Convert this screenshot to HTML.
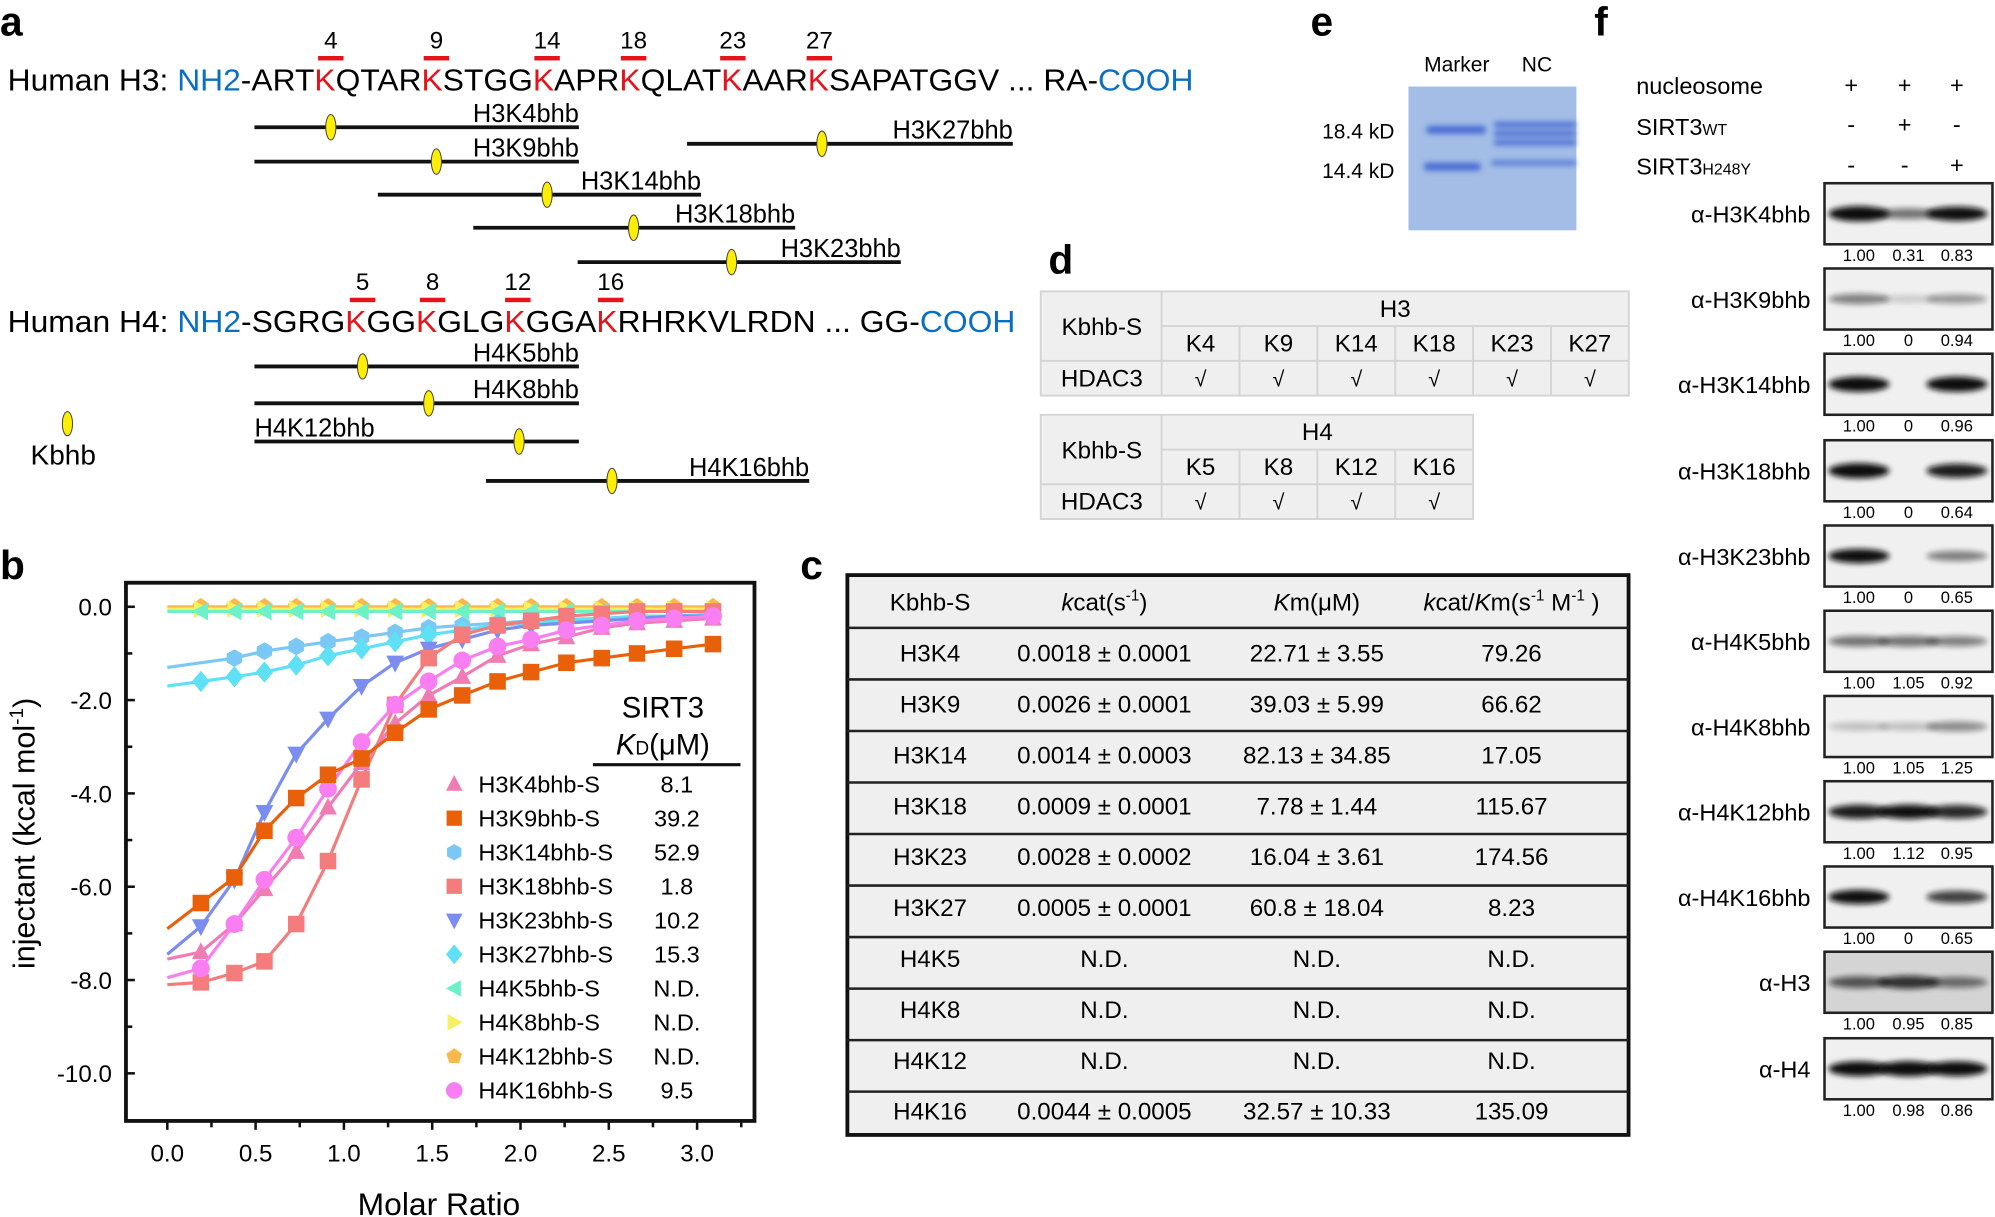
<!DOCTYPE html>
<html><head><meta charset="utf-8"><style>
html,body{margin:0;padding:0;background:#fff;}
svg{display:block;}
text{font-family:"Liberation Sans",Arial,sans-serif;}
</style></head><body>
<svg id="s" width="1995" height="1217" viewBox="0 0 1568 956.5" xmlns="http://www.w3.org/2000/svg">
<defs>
<filter id="bl" x="-30%" y="-100%" width="160%" height="300%"><feGaussianBlur stdDeviation="2.2"/></filter>
</defs>
<rect width="1568" height="957" fill="#fff"/>
<g font-weight="bold" font-size="32" fill="#000">
<text x="0" y="28">a</text><text x="0" y="455">b</text><text x="629" y="455">c</text>
<text x="824" y="215">d</text><text x="1030" y="28">e</text><text x="1253" y="28">f</text>
</g>
<g font-size="19" text-anchor="middle">
<text x="260" y="38">4</text><text x="343" y="38">9</text><text x="430" y="38">14</text><text x="498" y="38">18</text><text x="576" y="38">23</text><text x="644" y="38">27</text>
<text x="285" y="228">5</text><text x="340" y="228">8</text><text x="407" y="228">12</text><text x="480" y="228">16</text>
</g>
<g fill="#e5141b">
<rect x="250" y="44" width="20" height="3.5"/><rect x="333" y="44" width="20" height="3.5"/><rect x="420" y="44" width="20" height="3.5"/><rect x="488" y="44" width="20" height="3.5"/><rect x="566" y="44" width="20" height="3.5"/><rect x="634" y="44" width="20" height="3.5"/>
<rect x="275" y="234" width="20" height="3.5"/><rect x="330" y="234" width="20" height="3.5"/><rect x="397" y="234" width="20" height="3.5"/><rect x="470" y="234" width="20" height="3.5"/>
</g>
<text x="6" y="71" font-size="24" textLength="932" lengthAdjust="spacingAndGlyphs">Human H3:  <tspan fill="#0a6fc2">NH2</tspan>-ART<tspan fill="#e5141b">K</tspan>QTAR<tspan fill="#e5141b">K</tspan>STGG<tspan fill="#e5141b">K</tspan>APR<tspan fill="#e5141b">K</tspan>QLAT<tspan fill="#e5141b">K</tspan>AAR<tspan fill="#e5141b">K</tspan>SAPATGGV ... RA-<tspan fill="#0a6fc2">COOH</tspan></text>
<text x="6" y="261" font-size="24" textLength="792" lengthAdjust="spacingAndGlyphs">Human H4:  <tspan fill="#0a6fc2">NH2</tspan>-SGRG<tspan fill="#e5141b">K</tspan>GG<tspan fill="#e5141b">K</tspan>GLG<tspan fill="#e5141b">K</tspan>GGA<tspan fill="#e5141b">K</tspan>RHRKVLRDN ... GG-<tspan fill="#0a6fc2">COOH</tspan></text>
<g id="pep" stroke="#111" stroke-width="3"></g>
<ellipse cx="53" cy="333" rx="4" ry="9.5" fill="#ffee00" stroke="#444" stroke-width="0.8"/>
<text x="24" y="365" font-size="22">Kbhb</text>
<g id="tabd"></g>
<text x="1145" y="56" font-size="16.5" text-anchor="middle">Marker</text>
<text x="1208" y="56" font-size="16.5" text-anchor="middle">NC</text>
<text x="1096" y="109" font-size="16.5" text-anchor="end">18.4 kD</text>
<text x="1096" y="140" font-size="16.5" text-anchor="end">14.4 kD</text>
<rect x="1107" y="68" width="132" height="113" fill="#a3bde6"/>
<g filter="url(#bl)" fill="#3a5fd0" opacity="0.9">
<rect x="1121" y="99" width="47" height="6" rx="3"/>
<rect x="1119" y="128" width="45" height="6" rx="3"/>
<rect x="1174" y="96" width="65" height="4" rx="2"/>
<rect x="1174" y="103" width="65" height="4" rx="2"/>
<rect x="1174" y="110" width="65" height="4" rx="2"/>
<rect x="1172" y="126" width="67" height="4" rx="2" opacity="0.8"/>
</g>
<g font-size="18.5">
<text x="1286" y="74">nucleosome</text>
<text x="1286" y="106">SIRT3<tspan font-size="12.5">WT</tspan></text>
<text x="1286" y="137">SIRT3<tspan font-size="12.5">H248Y</tspan></text>
</g>
<g font-size="18.5" text-anchor="middle">
<text x="1455" y="73">+</text><text x="1497" y="73">+</text><text x="1538" y="73">+</text>
<text x="1455" y="104">-</text><text x="1497" y="104">+</text><text x="1538" y="104">-</text>
<text x="1455" y="136">-</text><text x="1497" y="136">-</text><text x="1538" y="136">+</text>
</g>
<g id="blots"></g>
<g id="tabc"></g>
<g id="plot"></g>
</svg>
<script>
var NS="http://www.w3.org/2000/svg";
function el(p,t,a,txt){var e=document.createElementNS(NS,t);for(var k in a)e.setAttribute(k,a[k]);if(txt!==undefined)e.textContent=txt;p.appendChild(e);return e;}
var pep=document.getElementById('pep'),svg=document.getElementById('s');
var peps=[[200,455,100,260,'H3K4bhb','r'],[200,455,127,343,'H3K9bhb','r'],[297,551,153,430,'H3K14bhb','r'],[372,625,179,498,'H3K18bhb','r'],[454,708,206,575,'H3K23bhb','r'],[540,796,113,646,'H3K27bhb','r'],
[200,455,288,285,'H4K5bhb','r'],[200,455,317,337,'H4K8bhb','r'],[200,455,347,408,'H4K12bhb','l'],[382,636,378,481,'H4K16bhb','r']];
peps.forEach(function(p){el(pep,'line',{x1:p[0],x2:p[1],y1:p[2],y2:p[2]});
el(svg,'ellipse',{cx:p[3],cy:p[2],rx:4,ry:10,fill:'#ffee00',stroke:'#444','stroke-width':0.8});
if(p[5]=='r')el(svg,'text',{x:p[1],y:p[2]-4,'font-size':20,'text-anchor':'end'},p[4]);else el(svg,'text',{x:p[0],y:p[2]-4,'font-size':20},p[4]);});
var td=document.getElementById('tabd');
function tabD(y0,cols,lbl,ks){var x0=818,x1=913,w=61.2,xe=x1+w*ks.length,h=27.3;
el(td,'rect',{x:x0,y:y0,width:xe-x0,height:h*3,fill:'#efefef',stroke:'#d4d4d4','stroke-width':1.5});
el(td,'line',{x1:x1,x2:x1,y1:y0,y2:y0+h*3,stroke:'#d4d4d4','stroke-width':1.5});
el(td,'line',{x1:x1,x2:xe,y1:y0+h,y2:y0+h,stroke:'#d4d4d4','stroke-width':1.5});
el(td,'line',{x1:x0,x2:xe,y1:y0+2*h,y2:y0+2*h,stroke:'#d4d4d4','stroke-width':1.5});
for(var i=1;i<ks.length;i++)el(td,'line',{x1:x1+w*i,x2:x1+w*i,y1:y0+h,y2:y0+3*h,stroke:'#d4d4d4','stroke-width':1.5});
el(td,'text',{x:866,y:y0+h+7,'font-size':19,'text-anchor':'middle'},'Kbhb-S');
el(td,'text',{x:866,y:y0+2*h+20,'font-size':19,'text-anchor':'middle'},'HDAC3');
el(td,'text',{x:(x1+xe)/2,y:y0+20,'font-size':19,'text-anchor':'middle'},lbl);
ks.forEach(function(k,i){el(td,'text',{x:x1+w*i+w/2,y:y0+h+20,'font-size':19,'text-anchor':'middle'},k);
el(td,'text',{x:x1+w*i+w/2,y:y0+2*h+20,'font-size':17,'text-anchor':'middle'},'\u221A');});}
tabD(229,0,'H3',['K4','K9','K14','K18','K23','K27']);
tabD(326,0,'H4',['K5','K8','K12','K16']);
var tc=document.getElementById('tabc');
el(tc,'rect',{x:666,y:452,width:614,height:440,fill:'#efefef',stroke:'#111','stroke-width':3});
for(var i=1;i<11;i++)el(tc,'line',{x1:666,x2:1280,y1:452+i*40.5+1,y2:452+i*40.5+1,stroke:'#222','stroke-width':2});
var hx=[731,868,1035,1188];
el(tc,'text',{x:hx[0],y:480,'font-size':19,'text-anchor':'middle'},'Kbhb-S');
var t=el(tc,'text',{x:hx[1],y:480,'font-size':19,'text-anchor':'middle'});
t.innerHTML='<tspan font-style="italic">k</tspan>cat(s<tspan font-size="12" dy="-8">-1</tspan><tspan dy="8">)</tspan>';
t=el(tc,'text',{x:hx[2],y:480,'font-size':19,'text-anchor':'middle'});
t.innerHTML='<tspan font-style="italic">K</tspan>m(\u03BCM)';
t=el(tc,'text',{x:hx[3],y:480,'font-size':19,'text-anchor':'middle'});
t.innerHTML='<tspan font-style="italic">k</tspan>cat/<tspan font-style="italic">K</tspan>m(s<tspan font-size="12" dy="-8">-1</tspan><tspan dy="8"> M</tspan><tspan font-size="12" dy="-8">-1</tspan><tspan dy="8"> )</tspan>';
var rows=[['H3K4','0.0018 \u00B1 0.0001','22.71 \u00B1 3.55','79.26'],['H3K9','0.0026 \u00B1 0.0001','39.03 \u00B1 5.99','66.62'],['H3K14','0.0014 \u00B1 0.0003','82.13 \u00B1 34.85','17.05'],['H3K18','0.0009 \u00B1 0.0001','7.78 \u00B1 1.44','115.67'],['H3K23','0.0028 \u00B1 0.0002','16.04 \u00B1 3.61','174.56'],['H3K27','0.0005 \u00B1 0.0001','60.8 \u00B1 18.04','8.23'],['H4K5','N.D.','N.D.','N.D.'],['H4K8','N.D.','N.D.','N.D.'],['H4K12','N.D.','N.D.','N.D.'],['H4K16','0.0044 \u00B1 0.0005','32.57 \u00B1 10.33','135.09']];
rows.forEach(function(r,i){r.forEach(function(c,j){el(tc,'text',{x:hx[j],y:520+i*40,'font-size':19,'text-anchor':'middle'},c);});});
var bg=document.getElementById('blots');
var bl=[['\u03B1-H3K4bhb',144,'1.00 0.31 0.83',[1,.5,.9]],['\u03B1-H3K9bhb',211,'1.00 0 0.94',[.45,.15,.35]],['\u03B1-H3K14bhb',278,'1.00 0 0.96',[1,0,1]],['\u03B1-H3K18bhb',346,'1.00 0 0.64',[1,0,.85]],['\u03B1-H3K23bhb',413,'1.00 0 0.65',[.9,0,.45]],['\u03B1-H4K5bhb',480,'1.00 1.05 0.92',[.5,.5,.45]],['\u03B1-H4K8bhb',547,'1.00 1.05 1.25',[.2,.2,.4]],['\u03B1-H4K12bhb',614,'1.00 1.12 0.95',[.85,.9,.8]],['\u03B1-H4K16bhb',681,'1.00 0 0.65',[.9,0,.7]],['\u03B1-H3',748,'1.00 0.95 0.85',[.6,.75,.5]],['\u03B1-H4',816,'1.00 0.98 0.86',[.95,1,.95]]];
var lx=[1461,1500,1538];
bl.forEach(function(b){var y=b[1];
el(bg,'text',{x:1423,y:y+31,'font-size':18.5,'text-anchor':'end'},b[0]);
el(bg,'rect',{x:1434,y:y,width:132,height:48,fill:b[0]=='\u03B1-H3'?'#d4d4d4':'#f0f0f0',stroke:'#222','stroke-width':2});
b[3].forEach(function(v,i){if(v>0)el(bg,'ellipse',{cx:lx[i],cy:y+24,rx:24,ry:2.5+v*3.5,fill:'#111',opacity:Math.min(1,v*1.1),filter:'url(#bl)'});});
var n=b[2].split(' ');n.forEach(function(s,i){el(bg,'text',{x:lx[i],y:y+61,'font-size':13,'text-anchor':'middle'},s);});});
var pg=document.getElementById('plot');
var X0=131.5,XS=138.8,Y0=476.9,YS=36.67;
function px(v){return X0+v*XS;} function py(v){return Y0-v*YS;}
el(pg,'rect',{x:99,y:458,width:494,height:423,fill:'none',stroke:'#111','stroke-width':3});
for(var i=0;i<=10;i++){var yy=py(-i);el(pg,'line',{x1:99,x2:i%2==0?106:104,y1:yy,y2:yy,stroke:'#111','stroke-width':2});
if(i%2==0)el(pg,'text',{x:88,y:yy+7,'font-size':19,'text-anchor':'end'},(i==0?'0.0':'-'+i+'.0'));}
for(var i=0;i<=6.5;i++){var xx=px(i*0.5);el(pg,'line',{x1:xx,x2:xx,y1:881,y2:888,stroke:'#111','stroke-width':2});
el(pg,'text',{x:xx,y:913,'font-size':19,'text-anchor':'middle'},(i*0.5).toFixed(1));}
for(var i=0;i<6;i++){var xx=px(0.25+i*0.5);el(pg,'line',{x1:xx,x2:xx,y1:881,y2:886,stroke:'#111','stroke-width':2});}
el(pg,'line',{x1:px(3.25),x2:px(3.25),y1:881,y2:886,stroke:'#111','stroke-width':2});
el(pg,'text',{x:345,y:955,'font-size':25,'text-anchor':'middle'},'Molar Ratio');
t=el(pg,'text',{x:0,y:0,'font-size':24,'text-anchor':'middle',transform:'translate(27,655) rotate(-90)'});
t.innerHTML='injectant (kcal mol<tspan font-size="15" dy="-9">-1</tspan><tspan dy="9">)</tspan>';
var xs=[0.19,0.38,0.55,0.73,0.91,1.1,1.29,1.48,1.67,1.87,2.06,2.26,2.46,2.66,2.87,3.09];
var S=[
 ['#fbb84a','pent',0,[0,0,0,0,0,0,0,0,0,0,0,0,0,0,0,0],0,'H4K12bhb-S','N.D.'],
 ['#f5f060','right',-0.05,[-0.05,-0.05,-0.05,-0.05,-0.05,-0.05,-0.05,-0.05,-0.05,-0.05,-0.05,-0.05,-0.05,-0.05,-0.05,-0.05],0,'H4K8bhb-S','N.D.'],
 ['#6ef0c8','left',-0.1,[-0.1,-0.1,-0.1,-0.1,-0.1,-0.1,-0.1,-0.1,-0.1,-0.1,-0.1,-0.1,-0.1,-0.1,-0.1,-0.1],0,'H4K5bhb-S','N.D.'],
 ['#7cc8f5','hex',-1.3,[null,-1.1,-0.95,-0.85,-0.75,-0.65,-0.55,-0.45,-0.4,-0.35,-0.3,-0.27,-0.25,-0.22,-0.2,-0.2],0,'H3K14bhb-S','52.9'],
 ['#5ee0f5','diam',-1.7,[-1.6,-1.5,-1.4,-1.25,-1.05,-0.9,-0.75,-0.6,-0.5,-0.4,-0.35,-0.3,-0.25,-0.2,-0.2,-0.15],0,'H3K27bhb-S','15.3'],
 ['#7b8ef0','down',-7.45,[-6.85,-5.85,-4.4,-3.15,-2.4,-1.7,-1.2,-0.9,-0.7,-0.5,-0.4,-0.35,-0.3,-0.25,-0.2,-0.2],0,'H3K23bhb-S','10.2'],
 ['#f47c7c','sq',-8.1,[-8.05,-7.85,-7.6,-6.8,-5.45,-3.7,-2.1,-1.1,-0.6,-0.4,-0.3,-0.2,-0.15,-0.1,-0.1,-0.1],0,'H3K18bhb-S','1.8'],
 ['#f07cb4','up',-7.55,[-7.4,-6.8,-6.05,-5.25,-4.3,-3.35,-2.5,-1.9,-1.5,-1.05,-0.8,-0.65,-0.45,-0.35,-0.3,-0.25],0,'H3K4bhb-S','8.1'],
 ['#f97ef1','circ',-7.95,[-7.75,-6.8,-5.85,-4.95,-3.9,-2.9,-2.1,-1.6,-1.15,-0.85,-0.7,-0.5,-0.4,-0.3,-0.25,-0.2],0,'H4K16bhb-S','9.5'],
 ['#e8600a','sq',-6.9,[-6.35,-5.8,-4.8,-4.1,-3.6,-3.25,-2.7,-2.2,-1.9,-1.6,-1.4,-1.2,-1.1,-1.0,-0.9,-0.8],0,'H3K9bhb-S','39.2']];
function mk(p,sh,x,y,c,r){r=r||7;
 if(sh=='circ')return el(p,'circle',{cx:x,cy:y,r:r,fill:c});
 if(sh=='sq')return el(p,'rect',{x:x-r+0.5,y:y-r+0.5,width:2*r-1,height:2*r-1,fill:c});
 var pts;
 if(sh=='up')pts=[[0,-r*1.1],[r,r*0.8],[-r,r*0.8]];
 else if(sh=='down')pts=[[0,r*1.1],[r,-r*0.8],[-r,-r*0.8]];
 else if(sh=='left')pts=[[-r,0],[r*0.8,-r],[r*0.8,r]];
 else if(sh=='right')pts=[[r,0],[-r*0.8,-r],[-r*0.8,r]];
 else if(sh=='diam')pts=[[0,-r*1.2],[r,0],[0,r*1.2],[-r,0]];
 else if(sh=='hex'){pts=[];for(var k=0;k<6;k++){var an=Math.PI/6+k*Math.PI/3;pts.push([r*Math.cos(an),r*Math.sin(an)]);}}
 else if(sh=='pent'){pts=[];for(var k=0;k<5;k++){var an=-Math.PI/2+k*2*Math.PI/5;pts.push([r*Math.cos(an),r*Math.sin(an)]);}}
 return el(p,'polygon',{points:pts.map(function(q){return (x+q[0])+','+(y+q[1]);}).join(' '),fill:c});}
S.forEach(function(s){var d='M'+px(0)+','+py(s[2]);s[3].forEach(function(v,i){if(v!==null)d+=' L'+px(xs[i])+','+py(v);});
el(pg,'path',{d:d,fill:'none',stroke:s[0],'stroke-width':2.5});
s[3].forEach(function(v,i){if(v!==null)mk(pg,s[1],px(xs[i]),py(v),s[0]);});});
el(pg,'text',{x:521,y:564,'font-size':23,'text-anchor':'middle'},'SIRT3');
t=el(pg,'text',{x:521,y:593,'font-size':23,'text-anchor':'middle'});
t.innerHTML='<tspan font-style="italic">K</tspan><tspan font-size="15">D</tspan>(\u03BCM)';
el(pg,'line',{x1:466,x2:582,y1:601,y2:601,stroke:'#111','stroke-width':2.5});
var leg=[S[7],S[9],S[3],S[6],S[5],S[4],S[2],S[1],S[0],S[8]];
leg.forEach(function(s,i){var y=616.3+i*26.75;mk(pg,s[1],357,y,s[0],6.5);
el(pg,'text',{x:376,y:y+6.5,'font-size':18.5},s[5]);el(pg,'text',{x:532,y:y+6.5,'font-size':18.5,'text-anchor':'middle'},s[6]);});
</script>
</body></html>
